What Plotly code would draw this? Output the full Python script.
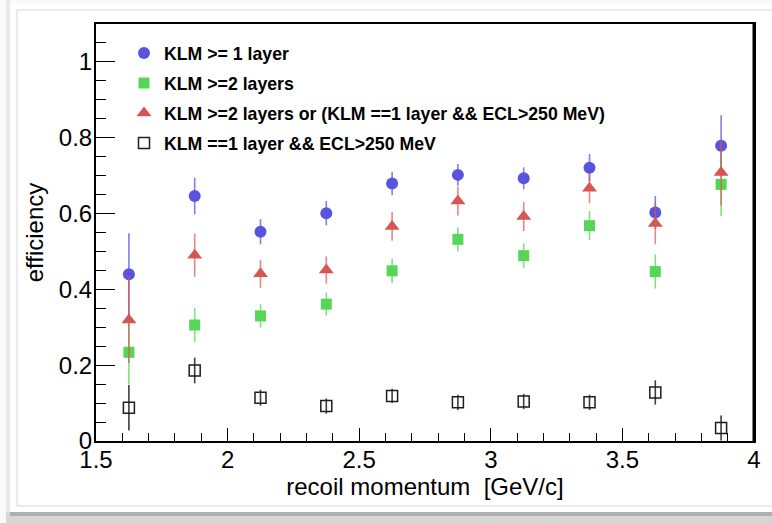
import plotly.graph_objects as go

# ---- data ----
momentum = [1.625, 1.875, 2.125, 2.375, 2.625, 2.875, 3.125, 3.375, 3.625, 3.875]

klm1_eff = [0.440, 0.646, 0.552, 0.601, 0.679, 0.702, 0.693, 0.721, 0.603, 0.779]
klm1_err = [0.108, 0.048, 0.033, 0.032, 0.031, 0.029, 0.029, 0.036, 0.043, 0.080]

klm2_eff = [0.234, 0.306, 0.330, 0.361, 0.449, 0.532, 0.489, 0.568, 0.447, 0.677]
klm2_err = [0.085, 0.045, 0.031, 0.030, 0.032, 0.032, 0.032, 0.038, 0.045, 0.084]

comb_eff = [0.319, 0.490, 0.441, 0.451, 0.566, 0.633, 0.592, 0.667, 0.574, 0.708]
comb_err = [0.113, 0.057, 0.037, 0.036, 0.038, 0.038, 0.038, 0.040, 0.055, 0.086]

ecl_eff = [0.088, 0.186, 0.114, 0.092, 0.119, 0.102, 0.104, 0.102, 0.128, 0.034]
ecl_err = [0.060, 0.034, 0.021, 0.020, 0.019, 0.020, 0.020, 0.020, 0.032, 0.033]

names = [
    "KLM >= 1 layer",
    "KLM >=2 layers",
    "KLM >=2 layers or (KLM ==1 layer && ECL>250 MeV)",
    "KLM ==1 layer && ECL>250 MeV",
]

x_tickvals = [1.5, 2, 2.5, 3, 3.5, 4]
x_ticktext = ["1.5", "2", "2.5", "3", "3.5", "4"]
y_tickvals = [0, 0.2, 0.4, 0.6, 0.8, 1]
y_ticktext = ["0", "0.2", "0.4", "0.6", "0.8", "1"]

FONT = "Liberation Sans, Arial, Helvetica, sans-serif"
W, H = 772, 523
L, R, T, B = 96, 18, 24, 82
PW, PH = W - L - R, H - T - B


def px(xp):
    return (xp - L) / PW


def py(yp):
    return (H - B - yp) / PH


fig = go.Figure()

series = [
    (klm1_eff, klm1_err, names[0], dict(symbol="circle", size=12, color="rgb(88,84,222)"), "rgba(88,84,222,0.75)"),
    (klm2_eff, klm2_err, names[1], dict(symbol="square", size=11, color="rgb(86,214,86)"), "rgba(86,214,86,0.75)"),
    (comb_eff, comb_err, names[2], dict(symbol="triangle-up", size=13, color="rgb(214,86,82)"), "rgba(214,86,82,0.7)"),
    (ecl_eff, ecl_err, names[3], dict(symbol="square-open", size=11, color="rgb(30,30,30)", line=dict(width=1.5)), "rgba(40,40,40,0.9)"),
]

for i, (vals, errs, name, marker, ecol) in enumerate(series):
    fig.add_trace(go.Scatter(
        x=momentum, y=vals, mode="markers", name=name,
        legendgroup=f"g{i}",
        marker=marker,
        error_y=dict(type="data", array=errs, visible=True, width=0,
                     thickness=1.6, color=ecol),
    ))

# screenshot chrome (panel border & shadow)
shapes = [
    dict(type="rect", xref="paper", yref="paper", x0=px(6), x1=px(10), y0=py(523), y1=py(0),
         fillcolor="rgb(232,232,232)", line=dict(width=0), layer="below"),
    dict(type="rect", xref="paper", yref="paper", x0=px(6), x1=px(772), y0=py(523), y1=py(512),
         fillcolor="rgb(215,215,215)", line=dict(width=0), layer="below"),
    dict(type="rect", xref="paper", yref="paper", x0=px(10), x1=px(772), y0=py(516), y1=py(512),
         fillcolor="rgb(175,175,175)", line=dict(width=0), layer="below"),
    dict(type="rect", xref="paper", yref="paper", x0=px(10), x1=px(772), y0=py(512), y1=py(4),
         fillcolor="white", line=dict(width=0), layer="below"),
    dict(type="rect", xref="paper", yref="paper", x0=px(17), x1=px(775), y0=py(506), y1=py(10),
         fillcolor="white", line=dict(width=1, color="rgb(215,215,215)"), layer="below"),
    dict(type="line", xref="paper", yref="paper", x0=1, x1=1, y0=0, y1=1,
         line=dict(width=3, color="black")),
]

fig.update_layout(
    width=W, height=H,
    margin=dict(l=L, r=R, t=T, b=B, autoexpand=False),
    paper_bgcolor="rgb(250,250,250)",
    plot_bgcolor="white",
    font=dict(family=FONT, size=24, color="black"),
    showlegend=True,
    legend=dict(
        x=px(124), y=py(35), xanchor="left", yanchor="top",
        bgcolor="rgba(0,0,0,0)", borderwidth=0,
        font=dict(family=FONT, size=17.7, color="black", weight="bold"),
        tracegroupgap=4,
        itemsizing="trace",
    ),
    shapes=shapes,
    xaxis=dict(
        range=[1.5, 4], showgrid=False, zeroline=False, automargin=False,
        showline=True, linecolor="black", linewidth=2, mirror=True,
        ticks="inside", ticklen=13, tickwidth=1.3, tickcolor="black",
        tickmode="array", tickvals=x_tickvals, ticktext=x_ticktext,
        ticklabelstandoff=-4,
        minor=dict(ticks="inside", ticklen=8, dtick=0.1, tick0=1.5, tickwidth=1.2, tickcolor="black", showgrid=False),
        tickfont=dict(size=24),
        title=dict(text="recoil momentum  [GeV/c]", font=dict(size=24), standoff=6),
    ),
    yaxis=dict(
        range=[0, 1.1], showgrid=False, zeroline=False, automargin=False,
        showline=True, linecolor="black", linewidth=2, mirror=True,
        ticks="inside", ticklen=19, tickwidth=1.3, tickcolor="black",
        tickmode="array", tickvals=y_tickvals, ticktext=y_ticktext,
        ticklabelstandoff=-3,
        minor=dict(ticks="inside", ticklen=10, dtick=0.05, tick0=0, tickwidth=1.2, tickcolor="black", showgrid=False),
        tickfont=dict(size=24),
        title=dict(text="efficiency", font=dict(size=24), standoff=8),
    ),
)

fig.write_html("out.html")
